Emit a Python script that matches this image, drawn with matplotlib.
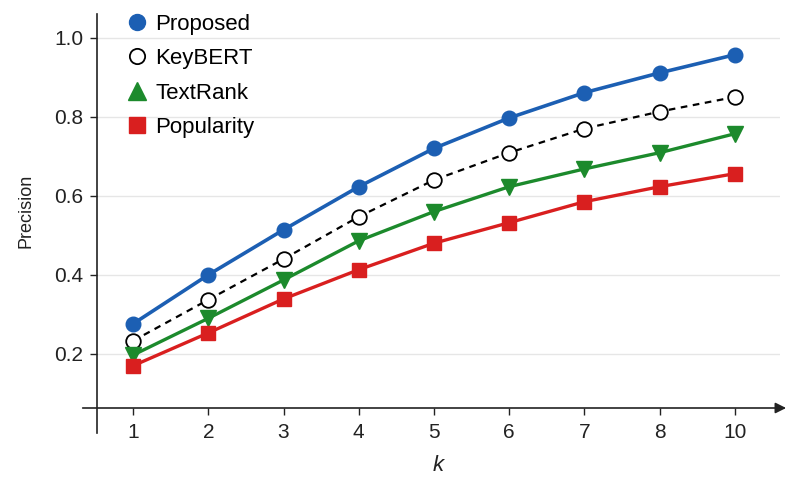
import matplotlib.pyplot as plt
from matplotlib.lines import Line2D

plt.rcParams['font.family'] = ['Liberation Sans', 'DejaVu Sans']

k_labels = ['1', '2', '3', '4', '5', '6', '7', '8', '10']
proposed = [0.276, 0.400, 0.514, 0.623, 0.720, 0.797, 0.861, 0.911, 0.957]
keybert = [0.233, 0.337, 0.440, 0.547, 0.640, 0.709, 0.770, 0.813, 0.850]
textrank = [0.197, 0.290, 0.387, 0.486, 0.560, 0.623, 0.668, 0.709, 0.757]
popularity = [0.170, 0.253, 0.339, 0.413, 0.480, 0.532, 0.585, 0.623, 0.656]

c_blue = '#1c5fb3'
c_green = '#1c8a2c'
c_red = '#d91f1f'

W, H = 791, 478
fig = plt.figure(figsize=(W / 100, H / 100), dpi=100)
ax = fig.add_axes([97 / W, (H - 408) / H, (780 - 97) / W, (408 - 14) / H])

x = list(range(len(k_labels)))
ax.plot(x, proposed, color=c_blue, lw=2.6, marker='o', ms=10.5, zorder=5)
ax.plot(x, keybert, color='black', lw=1.6, ls=(0, (3, 2.5)), marker='o', ms=10.5,
        mfc='white', mec='black', mew=1.3, zorder=4)
ax.plot(x, textrank, color=c_green, lw=2.4, marker='v', ms=11, zorder=4)
ax.plot(x, popularity, color=c_red, lw=2.4, marker='s', ms=10.5, zorder=4)

ax.set_xlim(-0.48, 8.6)
ax.set_ylim(0.063, 1.06)
ax.set_xticks(x)
ax.set_xticklabels(k_labels)
ax.set_yticks([0.2, 0.4, 0.6, 0.8, 1.0])
ax.set_yticklabels(['0.2', '0.4', '0.6', '0.8', '1.0'])
ax.tick_params(axis='both', labelsize=15, length=5, width=1, color='#222222', labelcolor='#222222')
ax.tick_params(axis='x', pad=6)
ax.tick_params(axis='y', pad=5)
ax.yaxis.grid(True, color='#e6e6e6', lw=1)
ax.set_axisbelow(True)
for s in ax.spines.values():
    s.set_visible(False)

# axis lines drawn by hand: y axis runs below the x axis, x axis has an arrow
ax.plot([0, 0], [-0.063, 1.0], transform=ax.transAxes, color='#222222', lw=1.2, clip_on=False)
ax.annotate('', xy=(1.013, 0), xytext=(-0.025, 0), xycoords='axes fraction',
            arrowprops=dict(arrowstyle='-|>', color='#222222', lw=1.2, mutation_scale=16))

ax.set_ylabel('Precision', fontsize=13, labelpad=14, color='#222222')
ax.set_xlabel('k', fontsize=16, style='italic', labelpad=9, color='#222222')

handles = [
    Line2D([], [], ls='none', marker='o', color=c_blue, ms=11.5),
    Line2D([], [], ls='none', marker='o', mfc='white', mec='black', mew=1.3, ms=11),
    Line2D([], [], ls='none', marker='^', color=c_green, ms=12.5),
    Line2D([], [], ls='none', marker='s', color=c_red, ms=11),
]
ax.legend(handles, ['Proposed', 'KeyBERT', 'TextRank', 'Popularity'],
          loc='upper left', bbox_to_anchor=(117 / W, 1 - 5 / H), bbox_transform=fig.transFigure,
          frameon=False, fontsize=16, handlelength=1.0, handletextpad=0.31,
          labelspacing=0.6, borderaxespad=0)

fig.savefig('out.png', dpi=100)
